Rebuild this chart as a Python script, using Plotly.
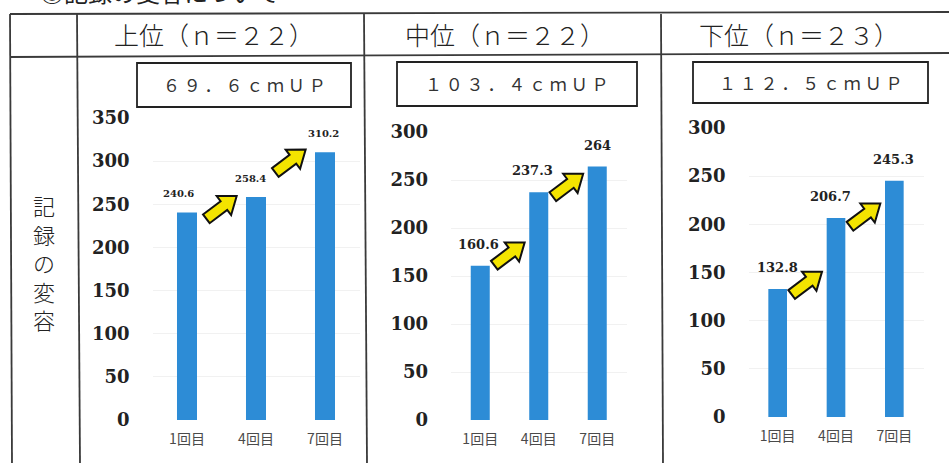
import math
import plotly.graph_objects as go

W, H = 949, 463

# ---- data ----
sessions = ["1回目", "4回目", "7回目"]
groups = ["上位（ｎ＝２２）", "中位（ｎ＝２２）", "下位（ｎ＝２３）"]
gains = ["６９．６ｃｍＵＰ", "１０３．４ｃｍＵＰ", "１１２．５ｃｍＵＰ"]
upper = [240.6, 258.4, 310.2]
middle = [160.6, 237.3, 264]
lower = [132.8, 206.7, 245.3]
y_max = [350, 300, 300]
row_label = "記録の変容"
heading = "◎記録の変容について"

series = [upper, middle, lower]

# ---- layout (pixel geometry of each panel) ----
panels = [
    dict(x0=152.5, x1=359.5, yb=420, yt=118, bw=0.29, lab=10, dy=19,
         dx=[-9, -6, -2], lift=[5, 36], head_x=214, box=(137, 63, 351, 107), box_cx=244),
    dict(x0=451, x1=626.5, yb=420, yt=132, bw=0.325, lab=13, dy=21.5,
         dx=[-2, -6, 0], lift=[12, 7], head_x=505, box=(397, 62, 637, 106), box_cx=516),
    dict(x0=748.5, x1=923.5, yb=417, yt=128, bw=0.32, lab=13, dy=21.5,
         dx=[0, -6, -1], lift=[6, 3], head_x=798.5, box=(693, 62, 928, 103), box_cx=810),
]

BAR = "#2d8cd6"
LINE = "#3a3a3a"
YELLOW = "#f4e400"
CJK = "Noto Sans CJK JP"
SERIF = "DejaVu Serif"


def px(x):
    return x / W


def py(y):
    return 1 - y / H


fig = go.Figure()
shapes = []
annotations = []

for k, (vals, p) in enumerate(zip(series, panels)):
    sfx = "" if k == 0 else str(k + 1)
    xa, ya = "x" + sfx, "y" + sfx
    fig.add_trace(go.Bar(
        x=list(range(len(sessions))), y=vals, width=p["bw"],
        marker=dict(color=BAR, line=dict(width=0)),
        xaxis=xa, yaxis=ya, hoverinfo="skip",
    ))
    fig.update_layout(**{
        "xaxis" + sfx: dict(
            domain=[px(p["x0"]), px(p["x1"])], range=[-0.5, 2.5],
            tickvals=list(range(len(sessions))), ticktext=sessions,
            tickfont=dict(family=CJK, size=14, color="#4a4a4a"),
            showgrid=False, zeroline=False, showline=False, ticks="",
            ticklabelstandoff=9, anchor=ya, fixedrange=True, automargin=False,
        ),
        "yaxis" + sfx: dict(
            domain=[py(p["yb"]), py(p["yt"])], range=[0, y_max[k]], dtick=50,
            tickfont=dict(family=SERIF, size=18, color="#222", weight="bold"),
            showgrid=True, gridcolor="#f1f1f1", gridwidth=1,
            zeroline=False, showline=False, ticks="",
            ticklabelstandoff=22, anchor=xa, fixedrange=True, automargin=False,
        ),
    })

    # pixel <-> data helpers for this panel
    sx = (p["x1"] - p["x0"]) / 3.0
    sy = (p["yb"] - p["yt"]) / y_max[k]

    def to_data(X, Y, p=p, sx=sx, sy=sy):
        return -0.5 + (X - p["x0"]) / sx, (p["yb"] - Y) / sy

    # value labels
    for i, v in enumerate(vals):
        annotations.append(dict(
            x=i, y=v, xref=xa, yref=ya, text=f"{v:g}", showarrow=False,
            xshift=p["dx"][i], yshift=p["dy"], yanchor="middle",
            font=dict(family=SERIF, size=p["lab"], color="#222", weight="bold"),
        ))

    # yellow block arrows between consecutive bars
    L, sw, hw, hl, ang = 38, 11, 24, 16, math.radians(37)
    ux, uy = math.cos(ang), -math.sin(ang)
    nx, ny = math.sin(ang), math.cos(ang)
    outline = [(-L / 2, -sw / 2), (L / 2 - hl, -sw / 2), (L / 2 - hl, -hw / 2), (L / 2, 0),
               (L / 2 - hl, hw / 2), (L / 2 - hl, sw / 2), (-L / 2, sw / 2)]
    for i in range(len(vals) - 1):
        cx = p["x0"] + (i + 1.0) * sx
        cy = p["yb"] - vals[i] * sy - p["lift"][i]
        pts = []
        for s, t in outline:
            X = cx + s * ux + t * nx
            Y = cy + s * uy + t * ny
            pts.append(to_data(X, Y))
        path = "M " + " L ".join(f"{a:.4f},{b:.4f}" for a, b in pts) + " Z"
        shapes.append(dict(type="path", path=path, xref=xa, yref=ya,
                           fillcolor=YELLOW, line=dict(color="#111", width=2), layer="above"))

    # gain box
    bx0, by0, bx1, by1 = p["box"]
    shapes.append(dict(type="rect", xref="paper", yref="paper",
                       x0=px(bx0), x1=px(bx1), y0=py(by1), y1=py(by0),
                       line=dict(color="#222", width=1.8), fillcolor="rgba(0,0,0,0)"))
    annotations.append(dict(
        x=px(p["box_cx"]), y=py((by0 + by1) / 2), xref="paper", yref="paper",
        text=" ".join(gains[k]), showarrow=False, xanchor="center", yanchor="middle",
        font=dict(family=CJK, size=17, color="#333"),
    ))

    # column heading
    annotations.append(dict(
        x=px(p["head_x"]), y=py(34), xref="paper", yref="paper", text=groups[k],
        showarrow=False, xanchor="center", yanchor="middle",
        font=dict(family=CJK, size=25, color="#222", weight=300),
    ))

# table rules
for (x0, y0, x1, y1) in [(10, 14, 949, 12), (10, 57, 949, 53),
                         (10, 14, 12, 463), (77, 14, 80, 463),
                         (364, 14, 367, 463), (661, 14, 663, 463)]:
    shapes.append(dict(type="line", xref="paper", yref="paper",
                       x0=px(x0), y0=py(y0), x1=px(x1), y1=py(y1),
                       line=dict(color=LINE, width=1.8)))

# row heading, written vertically one character per line
annotations.append(dict(
    x=px(44), y=py(262), xref="paper", yref="paper", text="<br>".join(row_label),
    showarrow=False, xanchor="center", yanchor="middle",
    font=dict(family=CJK, size=22, color="#222", weight=300),
))

# section heading at the top edge
annotations.append(dict(
    x=px(38), y=py(-9), xref="paper", yref="paper", text=heading,
    showarrow=False, xanchor="left", yanchor="middle",
    font=dict(family=CJK, size=24, color="#222"),
))

fig.update_layout(
    width=W, height=H, margin=dict(l=0, r=0, t=0, b=0, autoexpand=False),
    paper_bgcolor="white", plot_bgcolor="white", showlegend=False,
    shapes=shapes, annotations=annotations,
)

fig.write_html("out.html", config={"displayModeBar": False})
